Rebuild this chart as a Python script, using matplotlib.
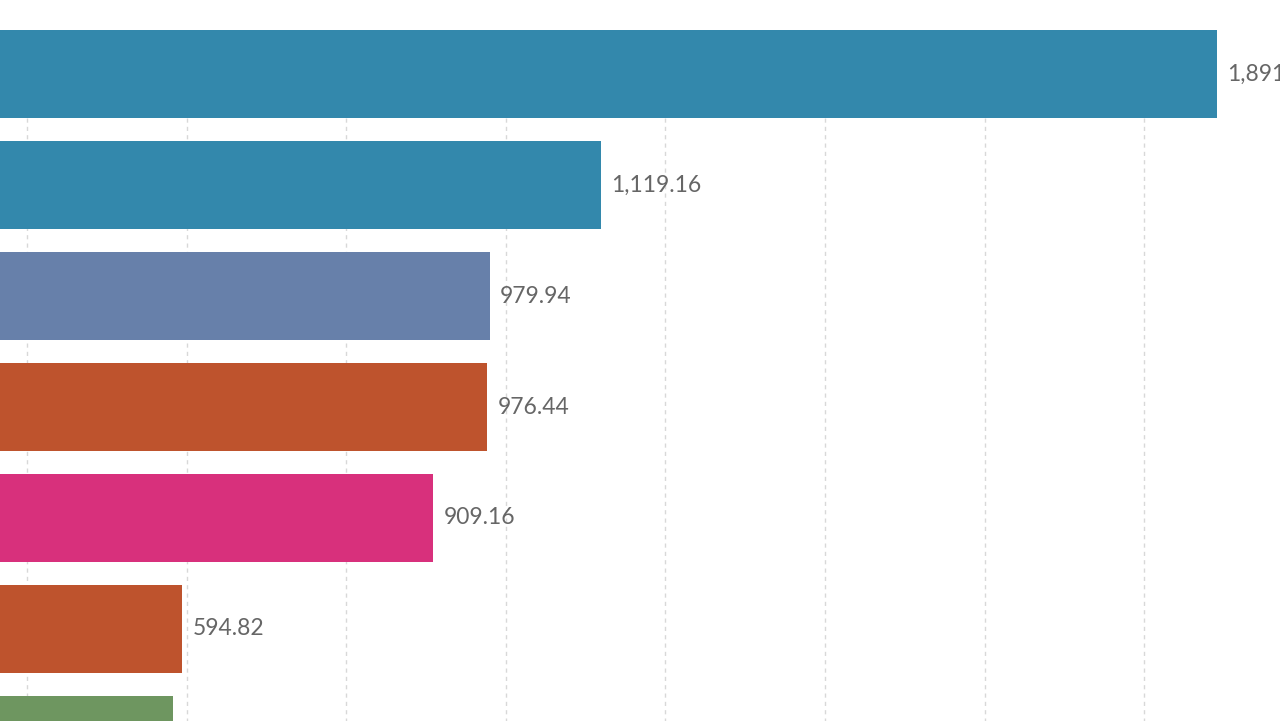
import matplotlib
matplotlib.use("Agg")
import matplotlib.pyplot as plt
import numpy as np

values = [1891.27, 1119.16, 979.94, 976.44, 909.16, 594.82, 582.70]
labels = ["1,891.27", "1,119.16", "979.94", "976.44", "909.16", "594.82", "582.70"]
colors = ["#3388ac", "#3388ac", "#6780aa", "#be532d", "#d8307c", "#be532d", "#6e9660"]
grid_ticks = [200, 400, 600, 800, 1000, 1200, 1400, 1600, 1800]

plt.rcParams['font.family'] = ['Lato', 'DejaVu Sans']

fig = plt.figure(figsize=(12.8, 7.21), dpi=100)
ax = fig.add_axes([0, 0, 1, 1])
ylim = (5.829, -0.667)
ax.set_xlim(366.1, 1970.3)
ax.set_ylim(*ylim)

y = np.arange(len(values))
ax.vlines(grid_ticks, 0.4, 7, colors="#d8d8d8", linestyles=(0, (3, 3)), linewidth=1, zorder=1)
ax.barh(y, values, height=0.793, color=colors, zorder=2)
for yi, v, lab in zip(y, values, labels):
    if yi > ylim[0] - 0.2:
        continue  # label lies below the visible area
    ax.text(v + 13, yi, lab, va="center", ha="left", fontsize=16.5, color="#666666", zorder=3)

ax.axis("off")
fig.savefig("out.png", dpi=100)
